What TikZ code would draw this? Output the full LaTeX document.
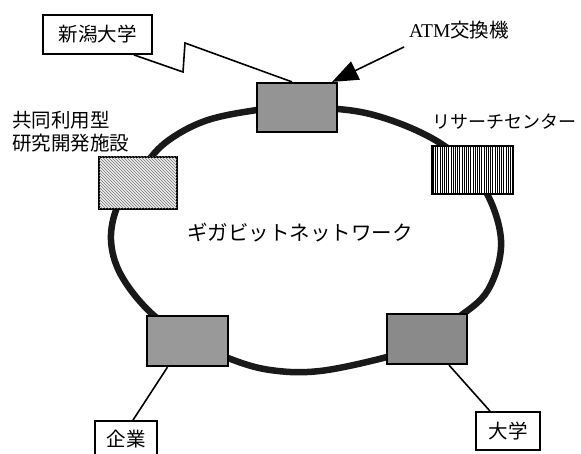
\documentclass[tikz,border=0pt]{standalone}
\usepackage{fontspec}
\newfontfamily\jp{Noto Sans CJK JP}
\newfontfamily\lat{Liberation Serif}
\usetikzlibrary{arrows.meta,patterns,patterns.meta}
\begin{document}
\begin{tikzpicture}[x=1pt,y=-1pt,
  lbl/.style={inner sep=0pt, font=\jp\fontsize{19.5}{23}\selectfont},
  tbox/.style={draw, line width=1.8pt, fill=white, inner sep=0pt, font=\jp\fontsize{19.5}{22}\selectfont},
  sw/.style={draw, line width=2.2pt, inner sep=0pt},
  wire/.style={line width=1.6pt},
  ringline/.style={line width=6.5pt, black!90}]
\useasboundingbox (0,0) rectangle (581,454);
% ring
\draw[ringline] plot[smooth cycle, tension=0.6] coordinates {
 (297,107) (370,114) (440,143) (482,185) (501,240) (488,290) (455,320)
 (420,345) (387,357) (320,371) (270,370) (228,358) (187,338) (150,312)
 (121,275) (111,240) (118,205) (140,172) (165,143) (205,121) (257,110)};
% switches
\node[sw, fill=black!42, minimum width=80pt, minimum height=49pt] (s1) at (297,107.5) {};
\node[sw, fill=black!6, minimum width=78pt, minimum height=52pt,
      postaction={pattern=north west lines, pattern color=black!55}] (lf) at (138,183) {};
\node[sw, fill=white, minimum width=81pt, minimum height=48pt,
      postaction={pattern={Lines[angle=90,distance=2.2pt,line width=0.9pt]}, pattern color=black}] (rc) at (472.5,170) {};
\node[sw, fill=black!40, minimum width=81pt, minimum height=50pt] (bl) at (187.5,341) {};
\node[sw, fill=black!46, minimum width=80pt, minimum height=50pt] (br) at (427,339) {};
% text boxes
\node[tbox, minimum width=109pt, minimum height=39pt] (niigata) at (97.5,34.5) {新潟大学};
\node[tbox, minimum width=62pt, minimum height=37pt] (kigyo) at (126,439.5) {企業};
\node[tbox, minimum width=64pt, minimum height=38pt] (dai) at (508,431) {大学};
% labels
\node[lbl, anchor=west] (atm) at (409,30) {{\lat ATM}交換機};
\node[lbl, anchor=west, align=left] (kyodo) at (12,131.5) {共同利用型\\研究開発施設};
\node[inner sep=0pt, anchor=west, font=\jp\fontsize{18}{20}\selectfont] (rclbl) at (432,122) {リサーチセンター};
\node[inner sep=0pt, font=\jp\fontsize{20.5}{22}\selectfont] (giga) at (300,233) {ギガビットネットワーク};
% connectors
\coordinate (z1) at (183,72);
\coordinate (z2) at (185,43);
\draw[wire] ([xshift=-19pt]niigata.south east) -- (z1) -- (z2) -- ([xshift=-5pt]s1.north);
\coordinate (atmtail) at (404,47);
\draw[wire, -{Triangle[length=26pt,width=20pt]}] (atmtail) -- ([xshift=-6pt]s1.north east);
\draw[wire] ([xshift=-20pt]bl.south) -- ([xshift=7pt]kigyo.north);
\draw[wire] ([xshift=22pt]br.south) -- ([xshift=-18pt]dai.north);
\end{tikzpicture}
\end{document}
